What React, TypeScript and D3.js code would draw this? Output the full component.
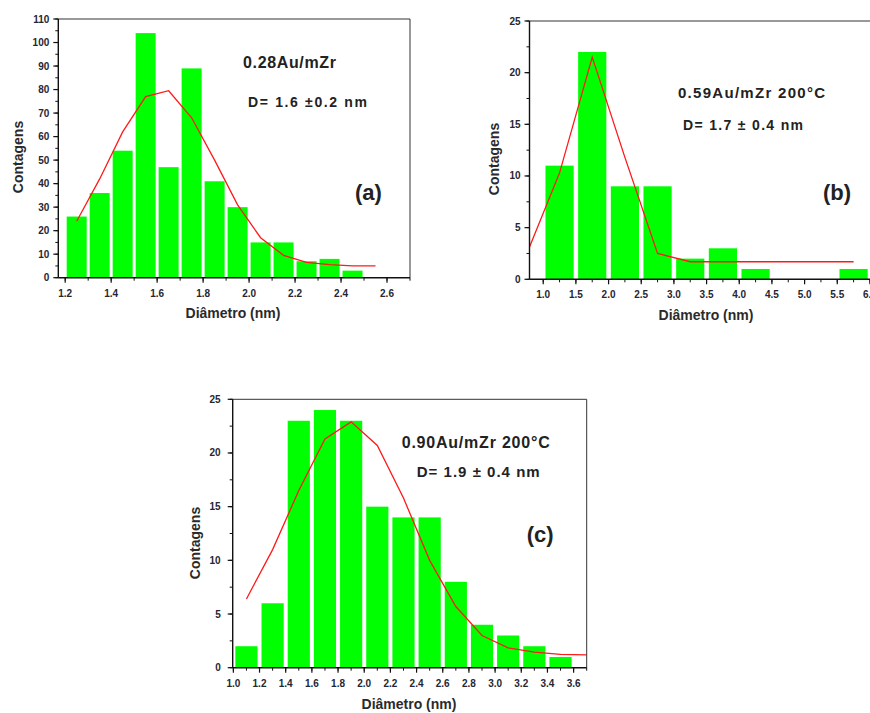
import React from 'react';
import * as d3 from 'd3';

// (a) 0.28Au/mZr
const binsA = [1.25, 1.35, 1.45, 1.55, 1.65, 1.75, 1.85, 1.95, 2.05, 2.15, 2.25, 2.35, 2.45];
const countsA = [26, 36, 54, 104, 47, 89, 41, 30, 15, 15, 7, 8, 3];
const fitXA = [1.25, 1.35, 1.45, 1.55, 1.65, 1.75, 1.85, 1.95, 2.05, 2.15, 2.25, 2.35, 2.45, 2.55];
const fitYA = [24, 42, 62, 77, 79.5, 68, 50, 31, 17, 9.5, 6.5, 5.6, 5, 5];
const xTicksA = [1.2, 1.4, 1.6, 1.8, 2.0, 2.2, 2.4, 2.6];
const yTicksA = [0, 10, 20, 30, 40, 50, 60, 70, 80, 90, 100, 110];

// (b) 0.59Au/mZr 200°C
const binsB = [1.25, 1.75, 2.25, 2.75, 3.25, 3.75, 4.25, 4.75, 5.25, 5.75];
const countsB = [11, 22, 9, 9, 2, 3, 1, 0, 0, 1];
const fitXB = [0.75, 1.25, 1.75, 2.25, 2.75, 3.25, 3.75, 4.25, 4.75, 5.25, 5.75];
const fitYB = [2.5, 10.3, 21.5, 11.8, 2.5, 1.7, 1.7, 1.7, 1.7, 1.7, 1.7];
const xTicksB = [1.0, 1.5, 2.0, 2.5, 3.0, 3.5, 4.0, 4.5, 5.0, 5.5, 6.0];
const yTicksB = [0, 5, 10, 15, 20, 25];

// (c) 0.90Au/mZr 200°C
const binsC = [1.1, 1.3, 1.5, 1.7, 1.9, 2.1, 2.3, 2.5, 2.7, 2.9, 3.1, 3.3, 3.5];
const countsC = [2, 6, 23, 24, 23, 15, 14, 14, 8, 4, 3, 2, 1];
const fitXC = [1.1, 1.3, 1.5, 1.7, 1.9, 2.1, 2.3, 2.5, 2.7, 2.9, 3.1, 3.3, 3.5, 3.7];
const fitYC = [6.4, 11, 16.5, 21.3, 22.9, 20.7, 15.8, 10, 5.7, 3.0, 1.85, 1.45, 1.25, 1.2];
const xTicksC = [1.0, 1.2, 1.4, 1.6, 1.8, 2.0, 2.2, 2.4, 2.6, 2.8, 3.0, 3.2, 3.4, 3.6];
const yTicksC = [0, 5, 10, 15, 20, 25];

const FONT = '"Liberation Sans", Arial, sans-serif';
const INK = '#262633';

type Note = { text: string; x: number; y: number; size: number; len?: number };

type PanelProps = {
  id: string;
  left: number;
  right: number;
  top: number;
  bottom: number;
  xDomain: [number, number];
  yDomain: [number, number];
  xTicks: number[];
  xMinor: number;
  yTicks: number[];
  yMinor: number;
  bins: number[];
  counts: number[];
  binWidth: number;
  gap: number;
  fitX: number[];
  fitY: number[];
  yLabelX: number;
  yLabelY: number;
  xLabelX: number;
  xLabelY: number;
  yTickGap: number;
  notes: Note[];
};

function minorTicks(domain: [number, number], step: number): number[] {
  const start = Math.ceil(domain[0] / step - 1e-9);
  const end = Math.floor(domain[1] / step + 1e-9);
  return d3.range(start, end + 1).map((k) => +(k * step).toFixed(6));
}

function Panel(p: PanelProps) {
  const x = d3.scaleLinear().domain(p.xDomain).range([p.left, p.right]);
  const y = d3.scaleLinear().domain(p.yDomain).range([p.bottom, p.top]);
  const slot = x(p.binWidth) - x(0);
  const barW = slot - p.gap;
  const line = d3
    .line<number>()
    .x((_, i) => x(p.fitX[i]))
    .y((d) => y(d));
  const xMinor = minorTicks(p.xDomain, p.xMinor);
  const yMinor = minorTicks(p.yDomain, p.yMinor);

  return (
    <g>
      <defs>
        <clipPath id={`clip-${p.id}`}>
          <rect x={p.left} y={p.top} width={p.right - p.left} height={p.bottom - p.top} />
        </clipPath>
      </defs>
      {p.bins.map((b, i) =>
        p.counts[i] > 0 ? (
          <rect
            key={i}
            x={x(b) - barW / 2}
            y={y(p.counts[i])}
            width={barW}
            height={y(0) - y(p.counts[i])}
            fill="#00ff00"
          />
        ) : null
      )}
      <path
        d={line(p.fitY) || ''}
        fill="none"
        stroke="#ff1a1a"
        strokeWidth={1.3}
        clipPath={`url(#clip-${p.id})`}
      />
      {/* frame */}
      <line x1={p.left} x2={p.right} y1={p.top} y2={p.top} stroke="#333" strokeWidth={1} />
      <line x1={p.right} x2={p.right} y1={p.top} y2={p.bottom} stroke="#333" strokeWidth={1} />
      <line x1={p.left} x2={p.left} y1={p.top} y2={p.bottom} stroke="#111" strokeWidth={1.4} />
      <line x1={p.left} x2={p.right} y1={p.bottom} y2={p.bottom} stroke="#111" strokeWidth={1.4} />
      {/* x ticks */}
      {xMinor.map((t, i) => (
        <line key={`xm${i}`} x1={x(t)} x2={x(t)} y1={p.bottom} y2={p.bottom + 3} stroke="#111" strokeWidth={1} />
      ))}
      {p.xTicks.map((t, i) => (
        <g key={`xt${i}`}>
          <line x1={x(t)} x2={x(t)} y1={p.bottom} y2={p.bottom + 5} stroke="#111" strokeWidth={1.2} />
          <text
            x={x(t)}
            y={p.bottom + 19}
            textAnchor="middle"
            fontFamily={FONT}
            fontWeight="bold"
            fontSize={10}
            fill={INK}
          >
            {d3.format('.1f')(t)}
          </text>
        </g>
      ))}
      {/* y ticks */}
      {yMinor.map((t, i) => (
        <line key={`ym${i}`} x1={p.left - 3} x2={p.left} y1={y(t)} y2={y(t)} stroke="#111" strokeWidth={1} />
      ))}
      {p.yTicks.map((t, i) => (
        <g key={`yt${i}`}>
          <line x1={p.left - 5} x2={p.left} y1={y(t)} y2={y(t)} stroke="#111" strokeWidth={1.2} />
          <text
            x={p.left - p.yTickGap}
            y={y(t) + 3.5}
            textAnchor="end"
            fontFamily={FONT}
            fontWeight="bold"
            fontSize={10}
            fill={INK}
          >
            {t}
          </text>
        </g>
      ))}
      <text
        transform={`translate(${p.yLabelX},${p.yLabelY}) rotate(-90)`}
        textAnchor="middle"
        dominantBaseline="central"
        fontFamily={FONT}
        fontWeight="bold"
        fontSize={14}
        fill="#2a2a2a"
      >
        Contagens
      </text>
      <text
        x={p.xLabelX}
        y={p.xLabelY}
        textAnchor="middle"
        fontFamily={FONT}
        fontWeight="bold"
        fontSize={14}
        fill="#2a2a2a"
      >
        Diâmetro (nm)
      </text>
      {p.notes.map((n, i) => (
        <text
          key={`n${i}`}
          x={n.x}
          y={n.y}
          fontFamily={FONT}
          fontWeight="bold"
          fontSize={n.size}
          fill="#222"
          textLength={n.len}
          lengthAdjust={n.len ? 'spacing' : undefined}
        >
          {n.text}
        </text>
      ))}
    </g>
  );
}

export default function App() {
  return (
    <svg
      width={870}
      height={713}
      style={{ position: 'absolute', left: 0, top: 0, background: '#fff' }}
    >
      <rect width={870} height={713} fill="#fff" />
      <Panel
        id="a"
        left={58.3}
        right={410}
        top={19}
        bottom={277.7}
        xDomain={[1.17, 2.7]}
        yDomain={[0, 110]}
        xTicks={xTicksA}
        xMinor={0.1}
        yTicks={yTicksA}
        yMinor={5}
        bins={binsA}
        counts={countsA}
        binWidth={0.1}
        gap={3}
        fitX={fitXA}
        fitY={fitYA}
        yLabelX={17.5}
        yLabelY={157}
        xLabelX={233}
        xLabelY={318}
        yTickGap={9}
        notes={[
          { text: '0.28Au/mZr', x: 243, y: 68, size: 16, len: 93 },
          { text: 'D= 1.6 ±0.2 nm', x: 248, y: 107, size: 14, len: 119 },
          { text: '(a)', x: 355, y: 200, size: 22 },
        ]}
      />
      <Panel
        id="b"
        left={529.5}
        right={883}
        top={21}
        bottom={279.3}
        xDomain={[0.79, 6.2]}
        yDomain={[0, 25]}
        xTicks={xTicksB}
        xMinor={0.25}
        yTicks={yTicksB}
        yMinor={2.5}
        bins={binsB}
        counts={countsB}
        binWidth={0.5}
        gap={4.5}
        fitX={fitXB}
        fitY={fitYB}
        yLabelX={493.5}
        yLabelY={159}
        xLabelX={706}
        xLabelY={320}
        yTickGap={9}
        notes={[
          { text: '0.59Au/mZr 200°C', x: 678, y: 97.5, size: 15, len: 147 },
          { text: 'D= 1.7 ± 0.4 nm', x: 683, y: 129.5, size: 14, len: 120 },
          { text: '(b)', x: 823, y: 200, size: 22 },
        ]}
      />
      <Panel
        id="c"
        left={232.7}
        right={586.7}
        top={399.3}
        bottom={667.7}
        xDomain={[0.995, 3.7]}
        yDomain={[0, 25]}
        xTicks={xTicksC}
        xMinor={0.1}
        yTicks={yTicksC}
        yMinor={2.5}
        bins={binsC}
        counts={countsC}
        binWidth={0.2}
        gap={4}
        fitX={fitXC}
        fitY={fitYC}
        yLabelX={195}
        yLabelY={543}
        xLabelX={409}
        xLabelY={709}
        yTickGap={12}
        notes={[
          { text: '0.90Au/mZr 200°C', x: 401.7, y: 448, size: 16, len: 148 },
          { text: 'D= 1.9 ± 0.4 nm', x: 416.7, y: 477, size: 15, len: 123 },
          { text: '(c)', x: 526.7, y: 542, size: 22 },
        ]}
      />
    </svg>
  );
}
